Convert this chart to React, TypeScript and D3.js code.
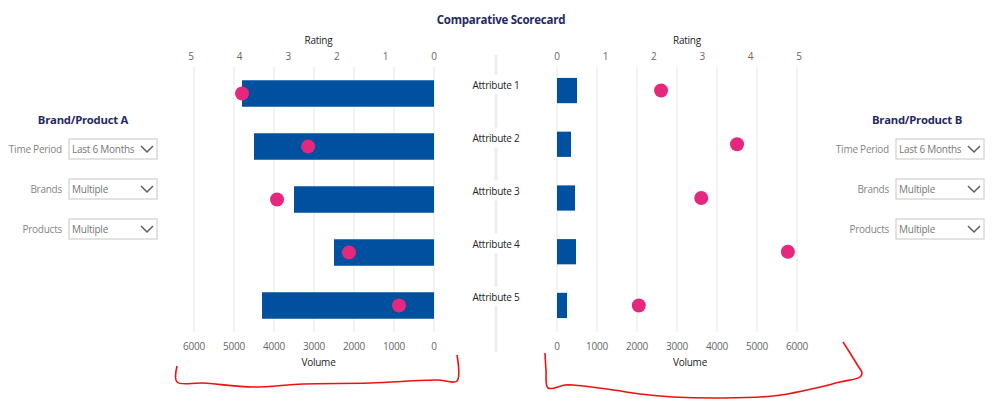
import React, { useEffect } from 'react';
import * as d3 from 'd3';

const attributes = ['Attribute 1', 'Attribute 2', 'Attribute 3', 'Attribute 4', 'Attribute 5'];
const volumeA = [4800, 4500, 3500, 2500, 4300];
const ratingA = [3.95, 2.59, 3.23, 1.75, 0.72];
const volumeB = [500, 350, 450, 475, 250];
const ratingB = [2.15, 3.72, 2.98, 4.77, 1.69];
const volumeTicks = [0, 1000, 2000, 3000, 4000, 5000, 6000];
const ratingTicks = [0, 1, 2, 3, 4, 5];
const filterLabels = ['Time Period', 'Brands', 'Products'];
const filterValues = ['Last 6 Months', 'Multiple', 'Multiple'];

const FONT = "'Segoe UI', 'Open Sans', sans-serif";
const NAVY = '#1f2a63';
const BAR = '#0050a0';
const DOT = '#e5277e';
const GRID = '#e6e6e6';
const TICK = '#666666';
const DARK = '#252423';
const FS = 10;
const LS = -0.25;

// hand-drawn red annotation brackets (not data)
const bracketLeft: [number, number][] = [
  [177, 366], [177, 382], [203, 383], [253, 387], [303, 384], [370, 383], [437, 380], [457, 381], [457, 355],
];
const bracketRight: [number, number][] = [
  [545, 353], [546, 370], [548, 388], [565, 385], [573, 385], [607, 389], [640, 394], [673, 397], [723, 398],
  [773, 396], [807, 390], [840, 382], [860, 377], [862, 373], [858, 366], [850, 353], [843, 342],
];

const GRID_TOP = 67;
const GRID_BOTTOM = 332;

const Filters: React.FC<{ title: string; titleX: number; labelX: number; boxX: number }> = ({ title, titleX, labelX, boxX }) => (
  <g fontFamily={FONT} letterSpacing={LS}>
    <text x={titleX} y={124} textAnchor="middle" fontWeight="bold" fontSize={11.3} fill={NAVY}>{title}</text>
    {filterLabels.map((lab, i) => {
      const y = 139 + i * 40;
      return (
        <g key={lab}>
          <text x={labelX} y={y + 14} textAnchor="end" fontSize={FS} fill="#858585">{lab}</text>
          <rect x={boxX} y={y} width={88} height={20} fill="#fff" stroke="#c8c6c4" />
          <text x={boxX + 3} y={y + 14} fontSize={FS} fill="#777">{filterValues[i]}</text>
          <polyline points={`${boxX + 72},${y + 7} ${boxX + 78},${y + 13} ${boxX + 84},${y + 7}`}
            fill="none" stroke="#605e5c" strokeWidth={1.5} />
        </g>
      );
    })}
  </g>
);

const App: React.FC = () => {
  useEffect(() => {
    document.body.style.margin = '0';
  }, []);

  const yA = d3.scaleBand<string>().domain(attributes).range([GRID_TOP, GRID_BOTTOM]).paddingInner(0.5).paddingOuter(0.25);
  const yB = d3.scaleBand<string>().domain(attributes).range([64.5, 331.5]).paddingInner(0.53).paddingOuter(0.25);

  const volA = d3.scaleLinear().domain([0, 6000]).range([434, 194]);
  const rateA = d3.scaleLinear().domain([0, 5]).range([434, 191]);
  const volB = d3.scaleLinear().domain([0, 6000]).range([557, 797]);
  const rateB = d3.scaleLinear().domain([0, 5]).range([557, 799]);

  const bracket = d3.line().curve(d3.curveCatmullRom.alpha(0.5));

  // divider segments between the attribute labels
  const labelY = attributes.map(a => (yA(a)! + yA.bandwidth() / 2) - 9);
  const dividerStops = [55, ...labelY.flatMap(y => [y - 10, y + 10]), 352];
  const dividerSegs: [number, number][] = [];
  for (let i = 0; i < dividerStops.length; i += 2) dividerSegs.push([dividerStops[i], dividerStops[i + 1]]);

  return (
    <svg width={999} height={399} style={{ display: 'block', background: '#fff' }} fontFamily={FONT} letterSpacing={LS}>
      <text x={501} y={24} textAnchor="middle" fontWeight="bold" fontSize={11.5} fill={NAVY}>Comparative Scorecard</text>

      <Filters title="Brand/Product A" titleX={83} labelX={62} boxX={69} />
      <Filters title="Brand/Product B" titleX={917} labelX={889} boxX={896} />

      {/* left chart */}
      <g>
        {volumeTicks.map(t => (
          <line key={t} x1={volA(t)} x2={volA(t)} y1={GRID_TOP} y2={GRID_BOTTOM} stroke={GRID} />
        ))}
        <text x={rateA(2.5) + 6} y={44} textAnchor="middle" fontSize={FS} fill={DARK}>Rating</text>
        {ratingTicks.map(t => (
          <text key={t} x={rateA(t)} y={60} textAnchor="middle" fontSize={FS} fill={TICK}>{t}</text>
        ))}
        {volumeTicks.map(t => (
          <text key={t} x={volA(t)} y={350} textAnchor="middle" fontSize={FS} fill={TICK}>{t}</text>
        ))}
        <text x={rateA(2.5) + 6} y={366} textAnchor="middle" fontSize={FS} fill={DARK}>Volume</text>
        {attributes.map((a, i) => (
          <rect key={a} x={volA(volumeA[i])} y={yA(a)} width={volA(0) - volA(volumeA[i])} height={yA.bandwidth()} fill={BAR} />
        ))}
        {attributes.map((a, i) => (
          <circle key={a} cx={rateA(ratingA[i])} cy={yA(a)! + yA.bandwidth() / 2} r={7} fill={DOT} />
        ))}
      </g>

      {/* middle labels */}
      {dividerSegs.map(([a, b], i) => (
        <line key={i} x1={496} x2={496} y1={a} y2={b} stroke="#ececf3" strokeWidth={3} />
      ))}
      {attributes.map((a, i) => (
        <text key={a} x={496} y={labelY[i] + 4} textAnchor="middle" fontSize={FS} fill={DARK}>{a}</text>
      ))}

      {/* right chart */}
      <g>
        {volumeTicks.map(t => (
          <line key={t} x1={volB(t)} x2={volB(t)} y1={GRID_TOP} y2={GRID_BOTTOM} stroke={GRID} />
        ))}
        <text x={rateB(2.5) + 9} y={44} textAnchor="middle" fontSize={FS} fill={DARK}>Rating</text>
        {ratingTicks.map(t => (
          <text key={t} x={rateB(t)} y={60} textAnchor="middle" fontSize={FS} fill={TICK}>{t}</text>
        ))}
        {volumeTicks.map(t => (
          <text key={t} x={volB(t)} y={350} textAnchor="middle" fontSize={FS} fill={TICK}>{t}</text>
        ))}
        <text x={rateB(2.5) + 12} y={366} textAnchor="middle" fontSize={FS} fill={DARK}>Volume</text>
        {attributes.map((a, i) => (
          <rect key={a} x={volB(0)} y={yB(a)} width={volB(volumeB[i]) - volB(0)} height={yB.bandwidth()} fill={BAR} />
        ))}
        {attributes.map((a, i) => (
          <circle key={a} cx={rateB(ratingB[i])} cy={yB(a)! + yB.bandwidth() / 2} r={7} fill={DOT} />
        ))}
      </g>

      <path d={bracket(bracketLeft) || ''} fill="none" stroke="#f01010" strokeWidth={1.6} />
      <path d={bracket(bracketRight) || ''} fill="none" stroke="#f01010" strokeWidth={1.6} />
    </svg>
  );
};

export default App;
